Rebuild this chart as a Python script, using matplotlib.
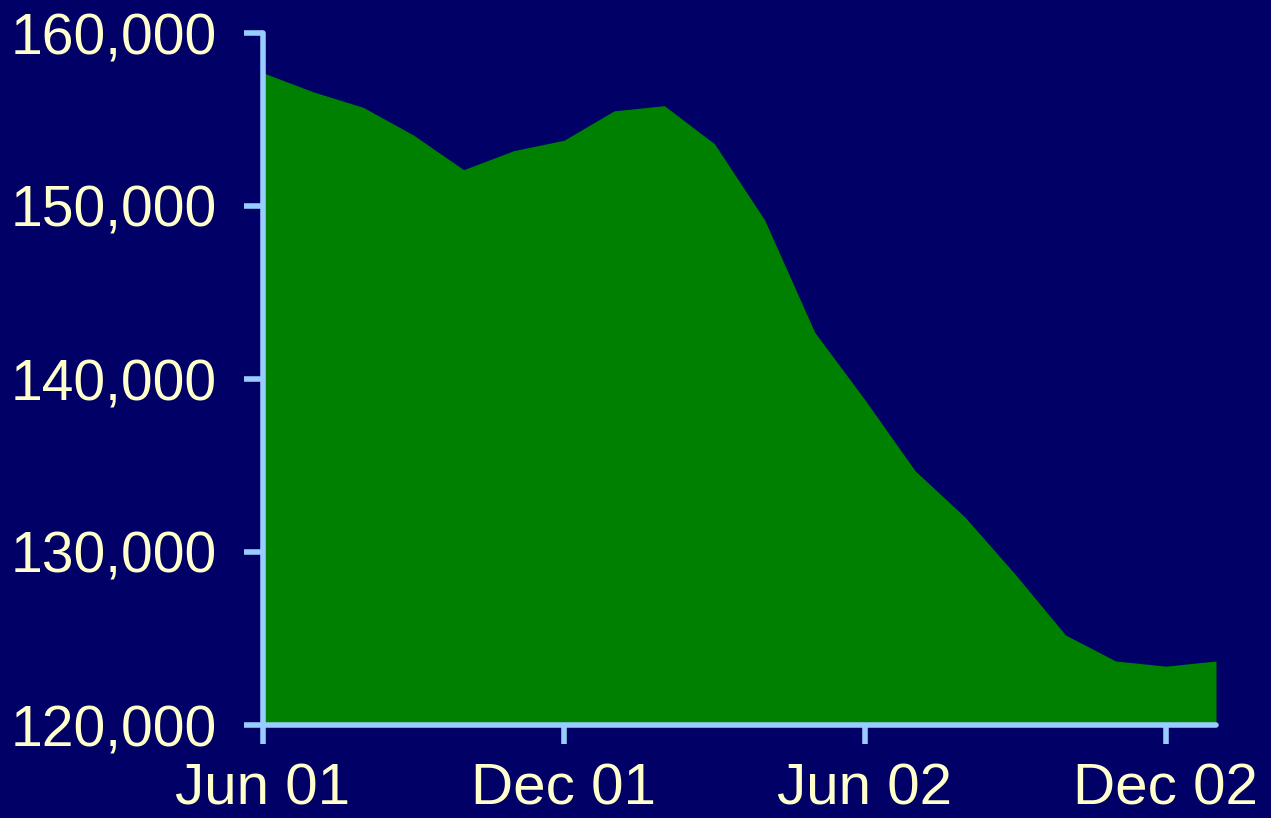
import matplotlib
matplotlib.use("Agg")
import matplotlib.pyplot as plt

# monthly values, Jun 01 .. Jan 03
months = list(range(20))
values = [157700, 156600, 155700, 154100, 152100, 153200, 153800, 155500,
          155800, 153600, 149200, 142700, 138800, 134700, 132000, 128700,
          125200, 123700, 123400, 123700]
tick_pos = [0, 6, 12, 18]
tick_labels = ["Jun 01", "Dec 01", "Jun 02", "Dec 02"]
y_ticks = [120000, 130000, 140000, 150000, 160000]

BG = "#000066"
FILL = "#008000"
AXIS = "#99CCFF"
TEXT = "#FFFFCC"

fig = plt.figure(figsize=(12.71, 8.18), dpi=100, facecolor=BG)
ax = fig.add_axes([263 / 1271, 1 - 725 / 818, (1216 - 263) / 1271, (725 - 33) / 818])
ax.set_facecolor(BG)

ax.fill_between(months, values, 120000, color=FILL, linewidth=0)

ax.set_xlim(0, 19)
ax.set_ylim(120000, 160000)
ax.set_xticks(tick_pos)
ax.set_xticklabels(tick_labels)
ax.set_yticks(y_ticks)
ax.set_yticklabels([f"{v:,}" for v in y_ticks])

for side in ("top", "right"):
    ax.spines[side].set_visible(False)
for side in ("left", "bottom"):
    ax.spines[side].set_color(AXIS)
    ax.spines[side].set_linewidth(4)
    ax.spines[side].set_capstyle("round")
    ax.spines[side].set_zorder(3)

ax.tick_params(axis="both", colors=AXIS, width=4, length=14, direction="out",
               labelcolor=TEXT)
ax.tick_params(axis="y", pad=19, labelsize=41)
ax.tick_params(axis="x", pad=13, labelsize=42)
for lab in ax.get_xticklabels() + ax.get_yticklabels():
    lab.set_fontfamily("Liberation Sans")
for t in ax.xaxis.get_ticklines() + ax.yaxis.get_ticklines():
    t.set_solid_capstyle("round")

fig.savefig("out.png", dpi=100, facecolor=BG)
